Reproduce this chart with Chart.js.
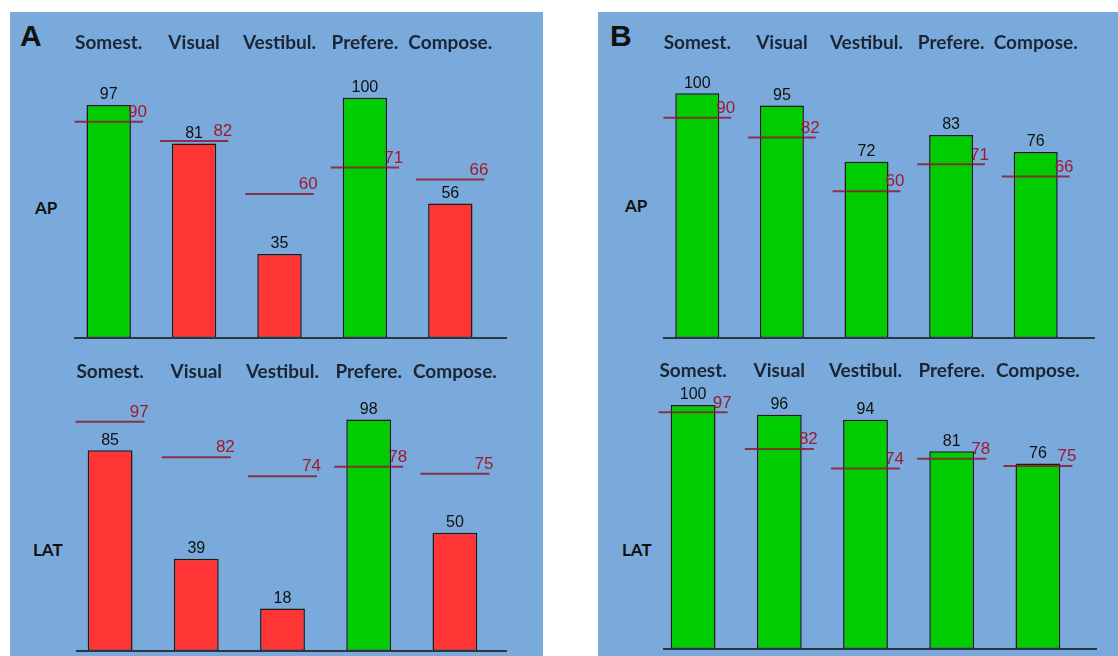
<!DOCTYPE html>
<html>
<head>
<meta charset="utf-8">
<script src="https://cdn.jsdelivr.net/npm/chart.js@4"></script>
<style>
  body { margin:0; width:1118px; height:656px; position:relative; overflow:hidden; background:#fff; font-family:"Liberation Sans", Arial, sans-serif; }
  .panel { position:absolute; top:12px; height:644px; background:#79aadb; }
  .letter { position:absolute; font-weight:bold; font-size:30px; line-height:1; color:#111; }
  .rowlbl { position:absolute; font-family:Lato, sans-serif; font-weight:bold; font-size:17px; line-height:1; color:#111; }
  canvas { position:absolute; }
</style>
</head>
<body>
<div class="panel" style="left:10px;width:533px"></div>
<div class="panel" style="left:598px;width:520px"></div>
<div class="letter" style="left:20px;top:21px">A</div>
<div class="letter" style="left:610px;top:21px">B</div>
<div class="rowlbl" style="left:35px;top:199px">AP</div>
<div class="rowlbl" style="left:33px;top:541px">LAT</div>
<div class="rowlbl" style="left:625px;top:197px">AP</div>
<div class="rowlbl" style="left:622px;top:541px">LAT</div>

<canvas id="aAp" width="533" height="350" style="left:10px;top:0px"></canvas>
<canvas id="aLat" width="533" height="316" style="left:10px;top:340px"></canvas>
<canvas id="bAp" width="520" height="350" style="left:598px;top:0px"></canvas>
<canvas id="bLat" width="520" height="316" style="left:598px;top:340px"></canvas>

<script>
// --- Data ---
const categories = ['Somest.', 'Visual', 'Vestibul.', 'Prefere.', 'Compose.'];

const apScoresA  = [97, 81, 35, 100, 56];
const apNormsA   = [90, 82, 60, 71, 66];
const latScoresA = [85, 39, 18, 98, 50];
const latNormsA  = [97, 82, 74, 78, 75];

const apScoresB  = [100, 95, 72, 83, 76];
const apNormsB   = [90, 82, 60, 71, 66];
const latScoresB = [100, 96, 94, 81, 76];
const latNormsB  = [97, 82, 74, 78, 75];

// --- Colors ---
const GREEN = '#00cc00';
const RED = '#ff3535';

// --- Norm lines, value labels and baseline ---
const normPlugin = {
  id: 'norms',
  afterDatasetsDraw(chart, args, opts) {
    const { ctx, chartArea, scales: { y } } = chart;
    const ds = chart.data.datasets[0];
    const meta = chart.getDatasetMeta(0);
    const y0 = y.getPixelForValue(0);

    ctx.save();
    ctx.strokeStyle = '#2c3642';
    ctx.lineWidth = 2;
    ctx.beginPath();
    ctx.moveTo(chartArea.left + opts.baseL, y0);
    ctx.lineTo(chartArea.right + opts.baseR, y0);
    ctx.stroke();

    meta.data.forEach((bar, i) => {
      ctx.fillStyle = '#111';
      ctx.font = '16px "Liberation Sans", Arial';
      ctx.textAlign = 'center';
      ctx.textBaseline = 'bottom';
      ctx.fillText(ds.data[i], bar.x, bar.y - 2);

      const ny = y.getPixelForValue(ds.norms[i]);
      const half = bar.width * 0.77;
      ctx.strokeStyle = 'rgba(140,28,48,0.85)';
      ctx.lineWidth = 2;
      ctx.beginPath();
      ctx.moveTo(bar.x - half, ny);
      ctx.lineTo(bar.x + half, ny);
      ctx.stroke();

      ctx.fillStyle = '#9e1a2e';
      ctx.font = '17px "Liberation Sans", Arial';
      ctx.textAlign = 'right';
      ctx.fillText(ds.norms[i], bar.x + half + 4, ny - 1);
    });
    ctx.restore();
  }
};

function makeChart(id, scores, norms, cfg) {
  return new Chart(document.getElementById(id), {
    type: 'bar',
    data: {
      labels: categories,
      datasets: [{
        data: scores,
        norms: norms,
        backgroundColor: scores.map((v, i) => v >= norms[i] ? GREEN : RED),
        borderColor: '#1b1b1b',
        borderWidth: 1.5,
        borderSkipped: false,
        categoryPercentage: 1,
        barPercentage: 0.52
      }]
    },
    options: {
      responsive: false,
      animation: false,
      layout: { padding: { left: cfg.left, right: cfg.right, top: cfg.top, bottom: cfg.bottom } },
      plugins: {
        legend: { display: false },
        tooltip: { enabled: false },
        norms: { baseL: cfg.baseL, baseR: cfg.baseR }
      },
      scales: {
        x: {
          position: 'top',
          grid: { display: false, drawTicks: false },
          border: { display: false },
          ticks: {
            color: '#1c2533', padding: cfg.pad,
            maxRotation: 0, minRotation: 0, autoSkip: false,
            font: { family: 'Lato', weight: 'bold', size: 19 }
          }
        },
        y: { display: false, min: 0, max: cfg.max }
      }
    },
    plugins: [normPlugin]
  });
}

// --- Init ---
makeChart('aAp',  apScoresA,  apNormsA,  { left: 56, right: 50, top: 11, bottom: 12, pad: 20, max: 110, baseL: 8, baseR: 14 });
makeChart('aLat', latScoresA, latNormsA, { left: 57, right: 45, top: 7,  bottom: 5,  pad: 13, max: 108, baseL: 9, baseR: 9 });
makeChart('bAp',  apScoresB,  apNormsB,  { left: 57, right: 40, top: 11, bottom: 12, pad: 20, max: 108, baseL: 8, baseR: 17 });
makeChart('bLat', latScoresB, latNormsB, { left: 52, right: 37, top: 8,  bottom: 7,  pad: 11, max: 105, baseL: 13, baseR: 16 });
</script>
</body>
</html>
